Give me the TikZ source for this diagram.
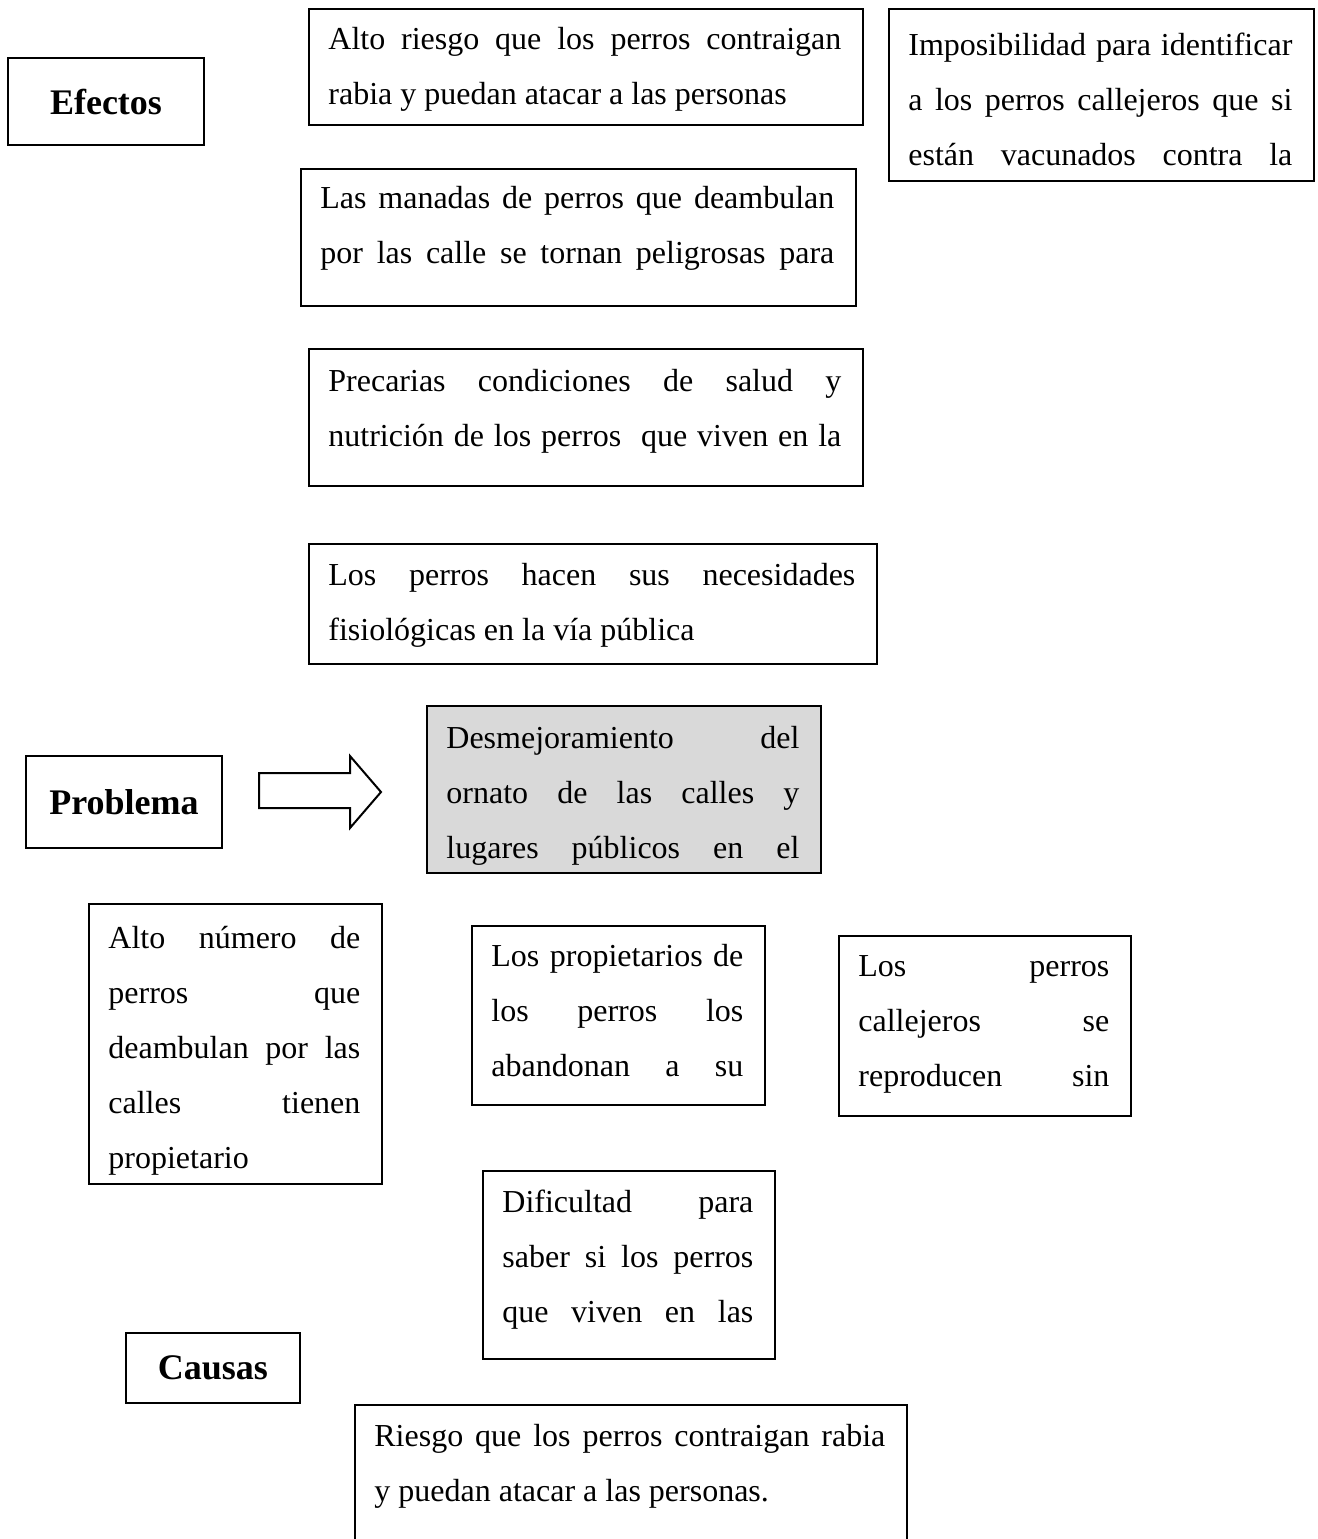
\documentclass[tikz,border=0pt]{standalone}
\usepackage{fontspec}
\setmainfont{Liberation Serif}
\usetikzlibrary{positioning}

% renglon justificado a todo el ancho
\newcommand{\renglon}[1]{\leavevmode\hbox to \hsize{\spaceskip=0pt\xspaceskip=0pt #1}}

\begin{document}
\begin{tikzpicture}[x=0.5pt,y=-0.5pt,
    caja/.style={draw, line width=1pt, rectangle, inner sep=0pt, anchor=north west},
    titulo/.style={draw, line width=1pt, rectangle, inner sep=0pt, font=\bfseries\fontsize{18}{21.6}\selectfont},
    texto/.style={anchor=base west, inner sep=0pt, text width=#1, align=left, font=\fontsize{16}{27.6}\selectfont,
        execute at begin node={\spaceskip=0pt\xspaceskip=0pt}}]
    \useasboundingbox (0,0) rectangle (1318,1539);

    % Efectos
    \node [titulo, minimum width=98pt, minimum height=43.5pt] (efectos) at (106,101.5) {Efectos};
    \node [caja, minimum width=277pt, minimum height=58pt] (riesgo) at (308,8) {};
    \node [texto=256.5pt] (riesgoT) at (328,49) {\renglon{Alto riesgo que los perros contraigan}\\rabia y puedan atacar a las personas};
    \node [caja, minimum width=212.5pt, minimum height=86pt] (identif) at (888,8) {};
    \node [texto=192pt] (identifT) at (908,55) {\renglon{Imposibilidad para identificar}\\\renglon{a los perros callejeros que si}\\\renglon{están vacunados contra la}};
    \node [caja, minimum width=277.5pt, minimum height=68.5pt] (manadas) at (300,168) {};
    \node [texto=257pt] (manadasT) at (320,208) {\renglon{Las manadas de perros que deambulan}\\\renglon{por las calle se tornan peligrosas para}};
    \node [caja, minimum width=277pt, minimum height=68.5pt] (salud) at (308,348) {};
    \node [texto=256.5pt] (saludT) at (328,391) {\renglon{Precarias condiciones de salud y}\\\renglon{nutrición de los perros\ \ que viven en la}};
    \node [caja, minimum width=284pt, minimum height=60pt] (necesid) at (308,543) {};
    \node [texto=263.5pt] (necesidT) at (328,585) {\renglon{Los perros hacen sus necesidades}\\fisiológicas en la vía pública};

    % Problema
    \node [titulo, minimum width=98pt, minimum height=46pt] (problema) at (124,802) {Problema};
    \node [caja, fill=gray!30, minimum width=197pt, minimum height=83.5pt] (ornato) at (426,705) {};
    \node [texto=176.5pt] (ornatoT) at (446,748) {\renglon{Desmejoramiento del}\\\renglon{ornato de las calles y}\\\renglon{lugares públicos en el}};
    \draw [line width=1pt] (259,773) -- (350,773) -- (350,756) -- (381,792) -- (350,828) -- (350,808) -- (259,808) -- cycle;

    % Causas
    \node [caja, minimum width=146.5pt, minimum height=140pt] (numero) at (88,903) {};
    \node [texto=126pt] (numeroT) at (108,948) {\renglon{Alto número de}\\\renglon{perros que}\\\renglon{deambulan por las}\\\renglon{calles tienen}\\propietario};
    \node [caja, minimum width=146.5pt, minimum height=89.5pt] (abandono) at (471,925) {};
    \node [texto=126pt] (abandonoT) at (491,966) {\renglon{Los propietarios de}\\\renglon{los perros los}\\\renglon{abandonan a su}};
    \node [caja, minimum width=146pt, minimum height=90pt] (reprod) at (838,935) {};
    \node [texto=125.5pt] (reprodT) at (858,976) {\renglon{Los perros}\\\renglon{callejeros se}\\\renglon{reproducen sin}};
    \node [caja, minimum width=146pt, minimum height=94pt] (dificultad) at (482,1170) {};
    \node [texto=125.5pt] (dificultadT) at (502,1212) {\renglon{Dificultad para}\\\renglon{saber si los perros}\\\renglon{que viven en las}};
    \node [titulo, minimum width=87pt, minimum height=35pt] (causas) at (213,1368) {Causas};
    \node [caja, minimum width=276pt, minimum height=80pt] (rabia) at (354,1404) {};
    \node [texto=255.5pt] (rabiaT) at (374,1446) {\renglon{Riesgo que los perros contraigan rabia}\\y puedan atacar a las personas.};
\end{tikzpicture}
\end{document}
